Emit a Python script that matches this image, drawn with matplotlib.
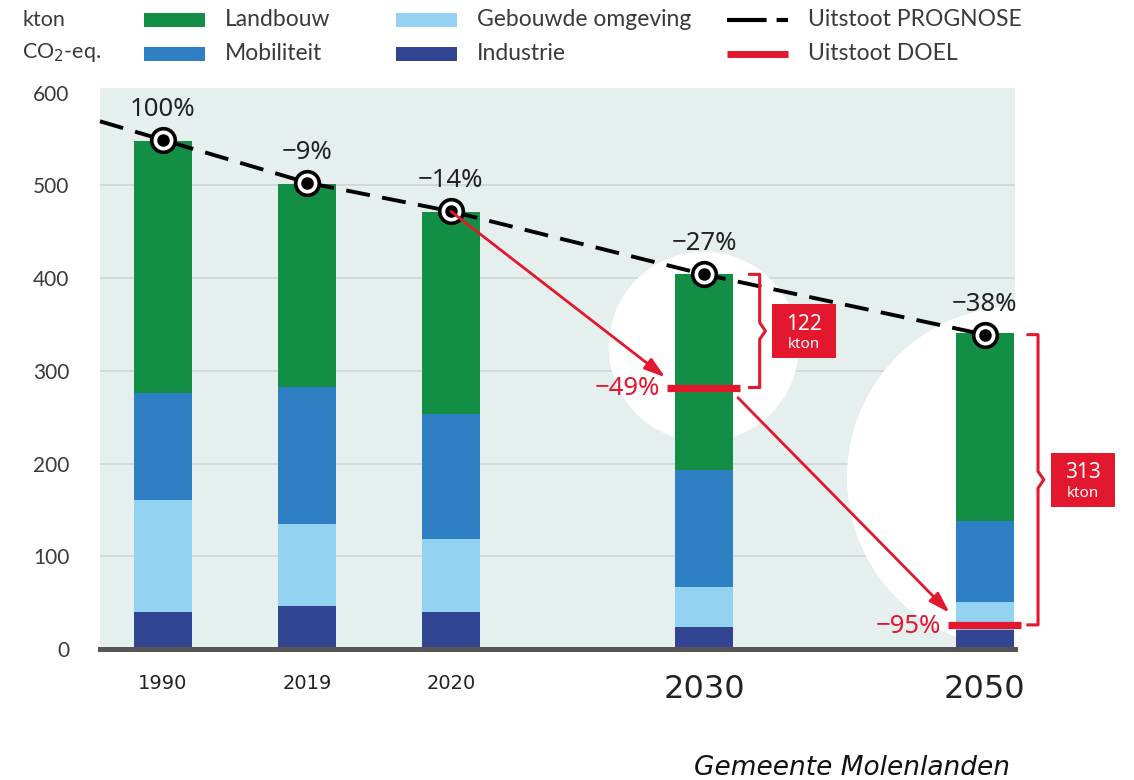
import matplotlib
matplotlib.use("Agg")
import matplotlib.pyplot as plt
from matplotlib.patches import Rectangle, Ellipse
from matplotlib.lines import Line2D

# data (kton CO2-eq.)
years = ["1990", "2019", "2020", "2030", "2050"]
industrie = [40, 46, 40, 24, 20]
gebouwd = [121, 89, 79, 43, 31]
mobiliteit = [115, 148, 134, 126, 87]
landbouw = [272, 219, 218, 211, 203]
prognose = [549, 503, 472, 404, 339]
prognose_lbl = ["100%", "−9%", "−14%", "−27%", "−38%"]
doel_idx = [3, 4]           # 2030, 2050
doel = [282, 26]
doel_lbl = ["−49%", "−95%"]

# layout
xpos = [0, 1, 2, 3.76, 5.71]
XL = (-0.4375, 5.92)
W = 0.40

GREEN = "#138f45"
MOB = "#2e7fc3"
GEB = "#93d2f1"
IND = "#314592"
RED = "#e3172d"
BG = "#e5efee"
TXT = "#3a3a3a"
FONT = "Lato"

fig = plt.figure(figsize=(11.34, 7.8), dpi=100)
ax = fig.add_axes([100 / 1134, 131 / 780, 915 / 1134, 561 / 780])
ax.set_facecolor(BG)
ax.set_xlim(*XL)
ax.set_ylim(0, 605)

# grid
for v in range(100, 600, 100):
    ax.axhline(v, color="#cfd8d8", lw=1.3, zorder=0.5)

# white highlight circles
ax.add_patch(Ellipse((3.757, 326), 1.32, 205, color="white", zorder=1, lw=0))
ax.add_patch(Ellipse((5.94, 185), 2.375, 369, color="white", zorder=1, lw=0))

# stacked bars
bottom = [0] * len(years)
for vals, col in [(industrie, IND), (gebouwd, GEB), (mobiliteit, MOB), (landbouw, GREEN)]:
    ax.bar(xpos, vals, W, bottom=bottom, color=col, zorder=2, lw=0)
    bottom = [b + v for b, v in zip(bottom, vals)]

# prognose line, extended back to the left edge
x0 = XL[0]
y0 = prognose[0] + (prognose[0] - prognose[1]) * (xpos[0] - x0) / (xpos[1] - xpos[0])
ax.plot([x0] + xpos, [y0] + prognose, color="black", lw=2.8,
        ls=(0, (6.2, 3.2)), zorder=3, clip_on=False)
ax.plot(xpos, prognose, "o", ms=17, mfc="white", mec="black", mew=2.6, zorder=4)
ax.plot(xpos, prognose, "o", ms=8, color="black", zorder=5)
for x, y, s in zip(xpos, prognose, prognose_lbl):
    ax.annotate(s, (x, y), xytext=(0, 22), textcoords="offset points",
                ha="center", va="center", fontsize=18.5, family="Noto Sans",
                color="#222222", zorder=6)

# doel lines + labels
for i, d, s in zip(doel_idx, doel, doel_lbl):
    x = xpos[i]
    ax.plot([x - 0.255, x + 0.25], [d, d], color=RED, lw=5.2, zorder=6,
            solid_capstyle="butt", clip_on=False)
    ax.annotate(s, (x - 0.255, d), xytext=(-5, -1), textcoords="offset points",
                ha="right", va="center", fontsize=18.5, family="Noto Sans",
                color=RED, zorder=6)

# red arrows
aprops = dict(arrowstyle="-|>,head_length=0.7,head_width=0.22", color=RED, lw=2,
              mutation_scale=18, shrinkA=0, shrinkB=0)
ax.annotate("", xy=(xpos[3] - 0.27, doel[0] + 11), xytext=(xpos[2], prognose[2]),
            arrowprops=aprops, zorder=6)
ax.annotate("", xy=(xpos[4] - 0.245, doel[1] + 13), xytext=(xpos[3] + 0.235, doel[0] - 11),
            arrowprops=aprops, zorder=6)

# brackets with gap boxes
for i, d, off in zip(doel_idx, doel, [0.386, 0.37]):
    top = prognose[i]
    bx = xpos[i] + off
    mid = (top + d) / 2
    ax.add_line(Line2D([bx - 0.07, bx, bx, bx + 0.04, bx, bx, bx - 0.07],
                       [top, top, mid + 9, mid, mid - 9, d, d],
                       color=RED, lw=2.2, clip_on=False, zorder=6))
    cx = bx + 0.31
    ax.add_patch(Rectangle((cx - 0.222, mid - 29), 0.444, 58, color=RED,
                           clip_on=False, zorder=6, lw=0))
    ax.annotate(f"{top - d}", (cx, mid), xytext=(0, 5), textcoords="offset points",
                ha="center", va="center", fontsize=15, family="Noto Sans",
                color="white", zorder=7, annotation_clip=False)
    ax.annotate("kton", (cx, mid), xytext=(0, -10), textcoords="offset points",
                ha="center", va="center", fontsize=11, family="Noto Sans",
                color="white", zorder=7, annotation_clip=False)

# axes styling
for s in ["top", "right", "left"]:
    ax.spines[s].set_visible(False)
ax.spines["bottom"].set_color("#555555")
ax.spines["bottom"].set_linewidth(3.6)
ax.spines["bottom"].set_zorder(8)
ax.set_yticks(range(0, 700, 100))
ax.tick_params(axis="y", length=0, pad=22, labelsize=15, labelcolor=TXT)
for t in ax.get_yticklabels():
    t.set_family(FONT)
ax.set_xticks(xpos)
ax.set_xticklabels(years)
ax.tick_params(axis="x", length=0, pad=18)
for t, big in zip(ax.get_xticklabels(), [False, False, False, True, True]):
    t.set_fontsize(23 if big else 14)
    t.set_family("DejaVu Sans")
    t.set_color("#222222")

# header: unit + manual legend
fig.text(22 / 1134, 1 - 20 / 780, "kton", fontsize=15.5, family=FONT, color=TXT, va="center")
fig.text(22 / 1134, 1 - 53 / 780, "CO$_2$-eq.", fontsize=15.5, family=FONT, color=TXT, va="center")

def px(x, y):
    return x / 1134, 1 - y / 780

items = [
    ("patch", GREEN, "Landbouw", 144, 20),
    ("patch", MOB, "Mobiliteit", 144, 54),
    ("patch", GEB, "Gebouwde omgeving", 396, 20),
    ("patch", IND, "Industrie", 396, 54),
    ("dash", "black", "Uitstoot PROGNOSE", 727, 20),
    ("line", RED, "Uitstoot DOEL", 727, 54),
]
for kind, col, lbl, x, y in items:
    if kind == "patch":
        fig.patches.append(Rectangle(px(x, y + 6.5), 61 / 1134, 13 / 780, color=col,
                                     transform=fig.transFigure, lw=0))
    elif kind == "dash":
        fig.add_artist(Line2D([px(x, y)[0], px(x + 61, y)[0]], [px(x, y)[1]] * 2,
                              color=col, lw=3, ls=(0, (9.5, 2.4, 2.9, 10)),
                              solid_capstyle="butt", transform=fig.transFigure))
    else:
        fig.add_artist(Line2D([px(x, y)[0], px(x + 61, y)[0]], [px(x, y)[1]] * 2,
                              color=col, lw=5, solid_capstyle="butt",
                              transform=fig.transFigure))
    fig.text(*px(x + 81, y), lbl, fontsize=16.5, family=FONT, color=TXT, va="center")

fig.text(1010 / 1134, 1 - 768 / 780, "Gemeente Molenlanden", fontsize=19,
         family="DejaVu Sans", style="italic", color="#111111", ha="right", va="center")

fig.savefig("out.png", dpi=100, facecolor="white")
